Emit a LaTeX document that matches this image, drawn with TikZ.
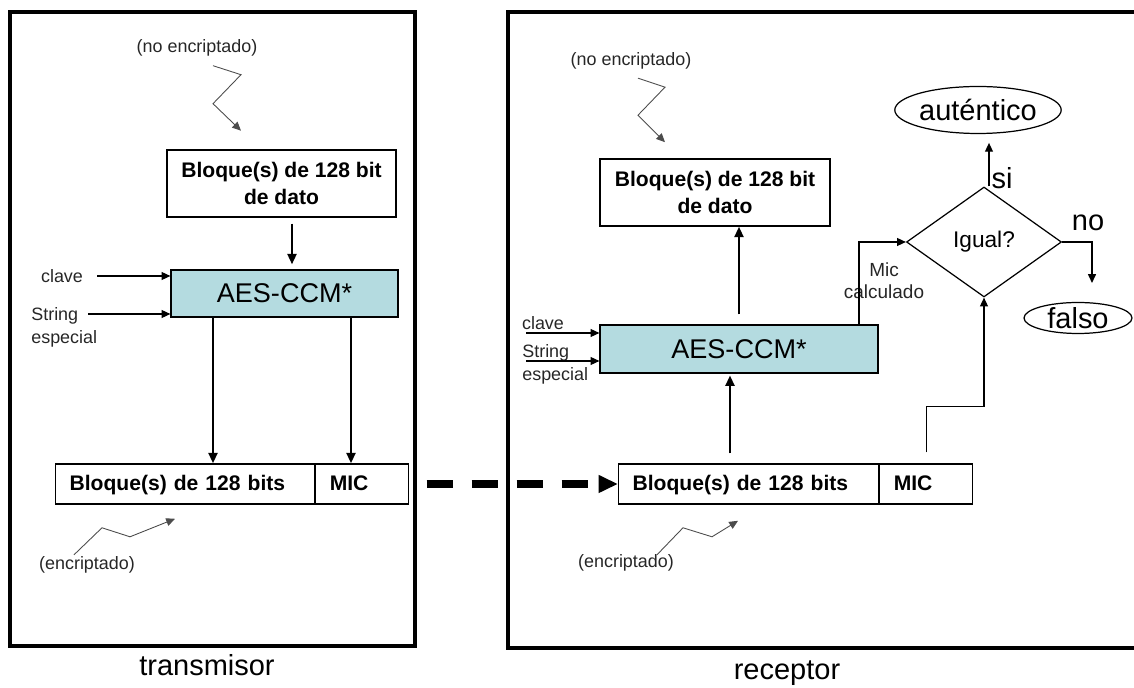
\documentclass[tikz,border=0pt]{standalone}
\usepackage{fontspec}
\setmainfont{Liberation Sans}
\usetikzlibrary{arrows.meta,shapes.geometric,calc,positioning}

\definecolor{aescolor}{RGB}{180,219,224}

\tikzset{
  marco/.style={draw, line width=2pt},
  caja/.style={draw, line width=0.7pt, inner sep=0pt, align=center, font=\fontsize{12}{15.4}\selectfont\bfseries},
  campo/.style={caja, anchor=west, align=left, inner xsep=0.28cm, text height=2.1ex, text depth=0.6ex},
  aes/.style={caja, fill=aescolor, font=\fontsize{15.4}{18}\selectfont},
  flecha/.style={-{Triangle[length=6pt,width=5pt]}, line width=1.5pt},
  fina/.style={-{Triangle[length=5pt,width=4.5pt]}, line width=0.7pt},
  zig/.style={-{Triangle[length=5pt,width=4.5pt]}, line width=0.5pt, black!70},
  nota/.style={font=\fontsize{10.2}{13}\selectfont, text=black!85, inner sep=0pt},
  grande/.style={font=\fontsize{16.5}{19}\selectfont, inner sep=0pt},
  enlace/.style={-{Triangle[length=11pt,width=9.5pt]}, line width=4.5pt, dash pattern=on 14.8pt off 10.8pt},
}

\begin{document}
\begin{tikzpicture}[x=0.02cm,y=-0.02cm]

\useasboundingbox (0,0) rectangle (1134,688);
\clip (0,0) rectangle (1134,688);

%frames
\node[marco, minimum width=8.1cm, minimum height=12.68cm] (transm) at (212.5,329) {};
\node[marco, minimum width=12.84cm, minimum height=12.72cm] (recep) at (829,330) {};
\node[grande] (transmT) at (207,665) {transmisor};
\node[grande] (recepT) at (787,673) {receptor};

%transmisor
\node[nota] (noencT) at (197,48) {(no encriptado)};
\node[caja, minimum width=4.58cm, minimum height=1.34cm] (datoT) at (281.5,183.5) {Bloque(s) de 128 bit\\de dato};
\node[aes, minimum width=4.54cm, minimum height=0.94cm] (aesT) at (284.5,293.5) {AES-CCM*};
\node[nota] (claveT) at (62,276) {clave};
\node[nota, anchor=west, align=left] (stringT) at (31,327) {String\\especial};
\node[campo, text width=4.62cm, minimum height=0.8cm] (bloqT) at (55,484) {Bloque(s) de 128 bits};
\node[campo, text width=1.30cm, minimum height=0.8cm] (micT) at (bloqT.east) {MIC};
\node[nota] (encT) at (87,565) {(encriptado)};

%receptor
\node[nota] (noencR) at (631,61) {(no encriptado)};
\node[caja, minimum width=4.6cm, minimum height=1.34cm] (datoR) at (715,192.5) {Bloque(s) de 128 bit\\de dato};
\node[aes, minimum width=5.56cm, minimum height=0.96cm] (aesR) at (739,349) {AES-CCM*};
\node[nota] (claveR) at (543,323) {clave};
\node[nota, anchor=west, align=left] (stringR) at (522,364) {String\\especial};
\node[campo, text width=4.64cm, minimum height=0.8cm] (bloqR) at (618,484) {Bloque(s) de 128 bits};
\node[campo, text width=1.30cm, minimum height=0.8cm] (micR) at (bloqR.east) {MIC};
\node[nota] (encR) at (626,563) {(encriptado)};
\node[draw, diamond, line width=0.7pt, minimum width=3.1cm, minimum height=2.2cm, inner sep=0pt, font=\fontsize{12.9}{15}\selectfont] (igual) at (984,242) {Igual?};
\node[draw, ellipse, line width=0.7pt, minimum width=3.32cm, minimum height=0.94cm, grande] (autent) at (978,110) {auténtico};
\node[draw, ellipse, line width=0.7pt, minimum width=2.16cm, minimum height=0.62cm, grande] (falso) at (1078,318) {falso};
\node[grande] (siT) at (1002,178) {si};
\node[grande] (noT) at (1088,223) {no};
\node[font=\fontsize{10.8}{12.5}\selectfont, align=center, inner sep=0pt, text=black!85] (micC) at (884,281) {Mic\\calculado};

\coordinate (bajaM) at (292,0);
\coordinate (bajaI) at (213,0);
\coordinate (bajaD) at (351,0);
\coordinate (strT) at (88,314);
\coordinate (subeA) at (739,0);
\coordinate (subeB) at (730,0);
\coordinate (micX) at (859,0);
\coordinate (claveRi) at (526,333);
\coordinate (strR) at (526,361);
\coordinate (noFin) at (1092,283);

%arrows transmisor
\draw[flecha, shorten <=3.4pt, shorten >=2.8pt] (datoT.south -| bajaM) -- (aesT.north -| bajaM);
\draw[fina] ([xshift=0.28cm]claveT.east) -- (claveT.east -| aesT.west);
\draw[fina] (strT) -- (strT -| aesT.west);
\draw[flecha] (aesT.south -| bajaI) -- (bloqT.north -| bajaI);
\draw[flecha] (aesT.south -| bajaD) -- (micT.north -| bajaD);

%link
\draw[enlace, shorten <=5.7pt] (transm.east |- bloqR.west) -- (bloqR.west);

%arrows receptor
\draw[flecha, shorten <=5.7pt] (aesR.north -| subeA) -- (datoR.south -| subeA);
\draw[flecha, shorten <=5.7pt, shorten >=1pt] (bloqR.north -| subeB) -- (aesR.south -| subeB);
\draw[fina] (claveRi) -- (claveRi -| aesR.west);
\draw[fina] (strR) -- (strR -| aesR.west);
\draw[fina] (aesR.north -| micX) |- (igual.west);
\draw[fina, shorten <=6.3pt] (micR.north) -- ++(0,-57) -| (igual.south);
\draw[fina, shorten >=5pt] ([xshift=0.1cm]igual.north) -- ([xshift=0.1cm]igual.north |- autent.south);
\draw[fina] (igual.east) -| (noFin);

%zigzags
\draw[zig] ($(noencT.south)+(16,9)$) -- ++(28,9) -- ++(-28,29) -- ++(28,27);
\draw[zig] ($(noencR.south)+(7,8.5)$) -- ++(27,9) -- ++(-27,28) -- ++(27,27);
\draw[zig] ($(encT.north)+(-13,-1.5)$) -- ++(28,-27) -- ++(28,9) -- ++(45,-18);
\draw[zig] ($(encR.north)+(31,0.5)$) -- ++(26,-27) -- ++(29,9) -- ++(26,-16);

\end{tikzpicture}
\end{document}
